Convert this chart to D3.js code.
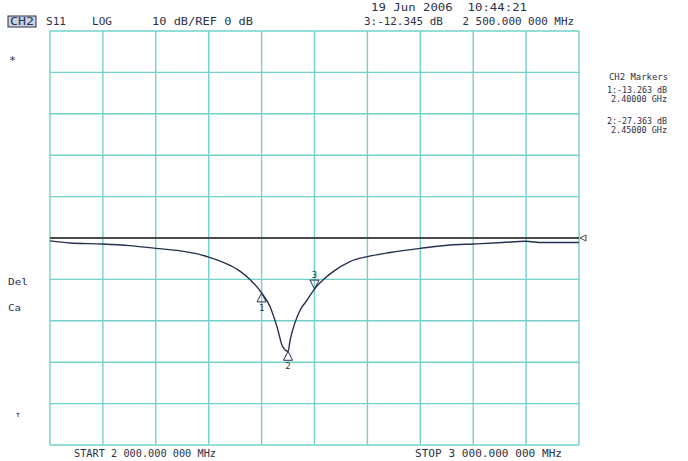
<!DOCTYPE html>
<html>
<head>
<meta charset="utf-8">
<script src="https://cdn.jsdelivr.net/npm/d3@7"></script>
<style>
  body { margin: 0; background: #ffffff; }
  text { font-family: "DejaVu Sans Mono", monospace; fill: #2b3147; white-space: pre; }
</style>
</head>
<body>
<div id="chart"></div>
<script>
// trace: S11 magnitude (dB) vs frequency (MHz)
const freqs = [2000, 2038, 2100, 2151, 2200, 2246, 2284, 2300, 2340, 2359, 2378, 2400,
    2416, 2429, 2440, 2450, 2454, 2463, 2473, 2486, 2500, 2520, 2530, 2567, 2600,
    2643, 2700, 2756, 2800, 2856, 2898, 2932, 3000];
const s11 = [-0.7, -1.2, -1.45, -1.85, -2.5, -3.1, -4.0, -4.6, -6.6, -8.0, -10.0, -13.263,
    -16.6, -21.4, -26.3, -27.363, -24.6, -20.5, -17.4, -15.0, -12.345, -9.7, -8.6, -5.7, -4.5,
    -3.5, -2.5, -1.7, -1.45, -1.1, -0.8, -1.1, -1.1];

// markers
const markerIds = ["1", "2", "3"];
const markerFreqs = [2400, 2450, 2500];
const markerVals = [-13.263, -27.363, -12.345];

// grid divisions
const freqTicks = d3.range(2000, 3001, 100);
const dbTicks = d3.range(-50, 51, 10);
const refLevel = 0;

const WIDTH = 688, HEIGHT = 461;
const PLOT = { LEFT: 50, RIGHT: 579, TOP: 31, BOTTOM: 445 };

const svg = d3.select("#chart").append("svg")
    .attr("width", WIDTH)
    .attr("height", HEIGHT);

const x = d3.scaleLinear().domain([2000, 3000]).range([PLOT.LEFT, PLOT.RIGHT]);
const y = d3.scaleLinear().domain([-50, 50]).range([PLOT.BOTTOM, PLOT.TOP]);

// grid
const grid = svg.append("g").attr("stroke", "#72d2cb").attr("stroke-width", 1.4);
grid.selectAll(".vline").data(freqTicks).enter().append("line")
    .attr("x1", d => x(d)).attr("x2", d => x(d))
    .attr("y1", PLOT.TOP).attr("y2", PLOT.BOTTOM);
grid.selectAll(".hline").data(dbTicks).enter().append("line")
    .attr("x1", PLOT.LEFT).attr("x2", PLOT.RIGHT)
    .attr("y1", d => y(d)).attr("y2", d => y(d));

// reference line
svg.append("line")
    .attr("x1", PLOT.LEFT).attr("x2", PLOT.RIGHT)
    .attr("y1", y(refLevel)).attr("y2", y(refLevel))
    .attr("stroke", "#4a4a4a").attr("stroke-width", 2);
svg.append("path")
    .attr("d", `M${PLOT.RIGHT + 1},${y(refLevel)} l6,-3 v6 z`)
    .attr("fill", "#fff").attr("stroke", "#4a4a4a").attr("stroke-width", 1);

// trace
const line = d3.line()
    .x((d, i) => x(freqs[i]))
    .y(d => y(d))
    .curve(d3.curveMonotoneX);
svg.append("path")
    .attr("d", line(s11))
    .attr("fill", "none")
    .attr("stroke", "#26304f")
    .attr("stroke-width", 1.4);

// markers: 1 and 2 below the trace, 3 (active) above
markerIds.forEach((id, i) => {
    const mx = x(markerFreqs[i]);
    const my = y(markerVals[i]);
    const up = id !== "3";
    const tri = up
        ? `M${mx},${my} l-4.5,9 h9 z`
        : `M${mx},${my} l-4.5,-9 h9 z`;
    svg.append("path")
        .attr("d", tri)
        .attr("fill", "none")
        .attr("stroke", "#26304f")
        .attr("stroke-width", 1);
    svg.append("text")
        .attr("x", mx)
        .attr("y", up ? my + 18 : my - 11)
        .attr("text-anchor", "middle")
        .attr("font-size", 9)
        .text(id);
});

// header texts
svg.append("rect")
    .attr("x", 8).attr("y", 16).attr("width", 28).attr("height", 11)
    .attr("fill", "#c9d3e6").attr("stroke", "#2b3147").attr("stroke-width", 1);
const labels = [
    { t: "CH2", x: 10, y: 25, w: 24, s: 10 },
    { t: "S11", x: 46, y: 25, w: 20, s: 10 },
    { t: "LOG", x: 92, y: 25, w: 20, s: 10 },
    { t: "10 dB/REF 0 dB", x: 152, y: 25, w: 101, s: 10 },
    { t: "19 Jun 2006  10:44:21", x: 371, y: 11, w: 156, s: 10 },
    { t: "3:-12.345 dB   2 500.000 000 MHz", x: 364, y: 25, w: 210, s: 10 },
    { t: "CH2 Markers", x: 609, y: 80, w: 59, s: 9 },
    { t: "1:-13.263 dB", x: 607, y: 93, w: 60, s: 9 },
    { t: "2.40000 GHz", x: 611, y: 102, w: 56, s: 9 },
    { t: "2:-27.363 dB", x: 607, y: 124, w: 60, s: 9 },
    { t: "2.45000 GHz", x: 611, y: 133, w: 56, s: 9 },
    { t: "*", x: 9, y: 64, w: 7, s: 11 },
    { t: "Del", x: 8, y: 285, w: 20, s: 9 },
    { t: "Ca", x: 8, y: 311, w: 13, s: 9 },
    { t: "↑", x: 15, y: 417, w: 6, s: 8 },
    { t: "START 2 000.000 000 MHz", x: 74, y: 457, w: 142, s: 10 },
    { t: "STOP 3 000.000 000 MHz", x: 415, y: 457, w: 147, s: 10 }
];
svg.selectAll(".lbl").data(labels).enter().append("text")
    .attr("class", "lbl")
    .attr("x", d => d.x)
    .attr("y", d => d.y)
    .attr("font-size", d => d.s)
    .attr("textLength", d => d.w)
    .attr("lengthAdjust", "spacingAndGlyphs")
    .attr("xml:space", "preserve")
    .text(d => d.t);
</script>
</body>
</html>
